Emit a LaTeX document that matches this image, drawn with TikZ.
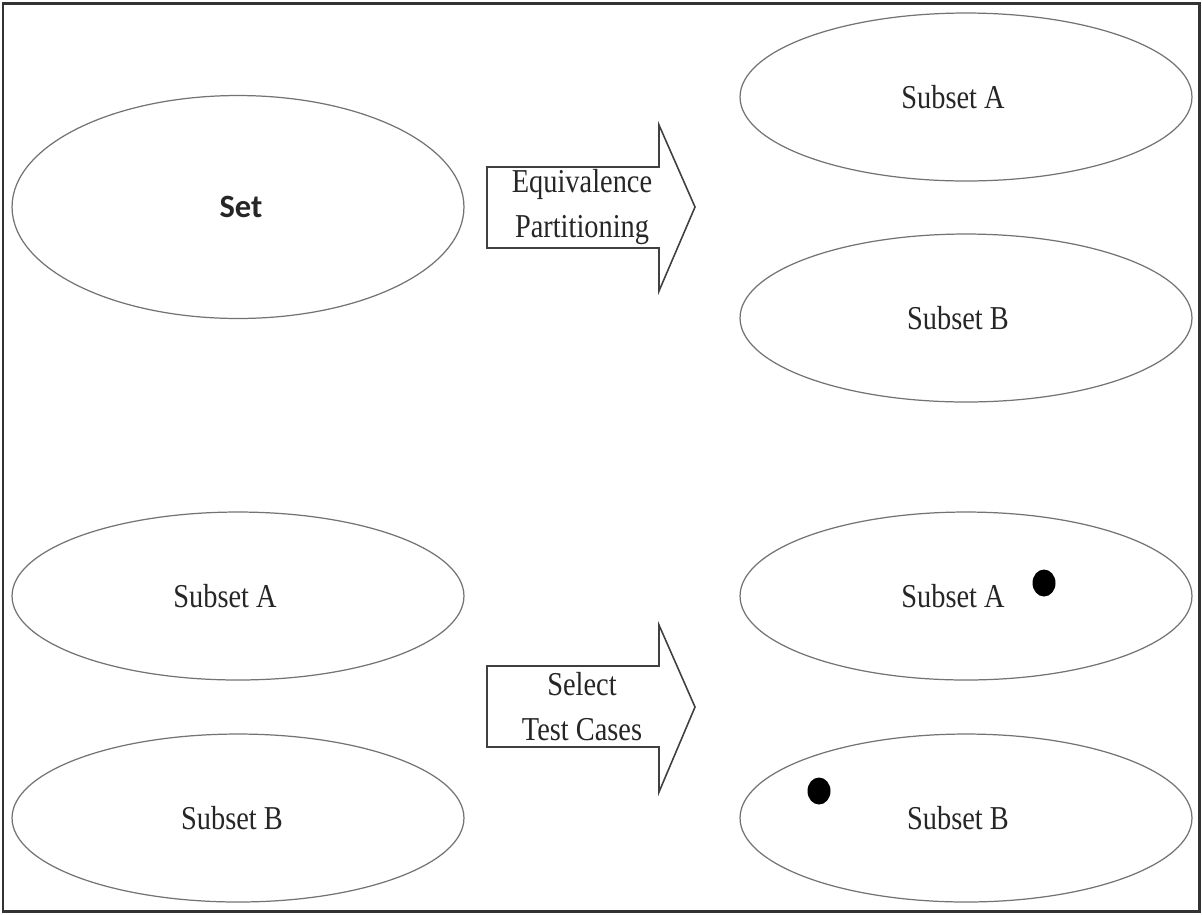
\documentclass[tikz,border=0pt]{standalone}
\usepackage{fontspec}
\setmainfont{Liberation Serif}
\newfontfamily\lblfont[FakeStretch=0.85]{Liberation Serif}
\newfontfamily\setfont{Carlito}
\usetikzlibrary{shapes.geometric}
\tikzset{
  setell/.style={ellipse, draw=black!55, line width=0.7pt, inner sep=0pt,
     minimum width=9.04cm, minimum height=4.46cm},
  subell/.style={ellipse, draw=black!55, line width=0.7pt, inner sep=0pt,
     minimum width=9.04cm, minimum height=3.36cm},
  lbl/.style={font=\lblfont\fontsize{19}{25.6}\selectfont, text=black!85, align=center},
  bigarrow/.style={draw=black!75, line width=0.9pt, line join=miter, fill=white},
  testdot/.style={ellipse, fill=black, inner sep=0pt, minimum width=0.46cm, minimum height=0.54cm}
}
\begin{document}
\begin{tikzpicture}[x=0.02cm,y=-0.02cm]
\useasboundingbox (0,0) rectangle (1202,914);
\draw[line width=1.7pt, draw=black!80] (3,3) rectangle (1199,911);

% top half
\node[setell] (set) at (238,207) {};
\node[font=\setfont\bfseries\fontsize{18.5}{22}\selectfont, text=black!85] (settxt) at ([xshift=0.06cm]set.center) {Set};
\node[subell] (ta) at (966,97) {};
\node[lbl] (tatxt) at ([xshift=-0.26cm]ta.center) {Subset A};
\node[subell] (tb) at (966,318) {};
\node[lbl] (tbtxt) at ([xshift=-0.16cm]tb.center) {Subset B};

\coordinate (a1) at (487,167);
\draw[bigarrow] (a1) -- (659,167) -- (659,125) -- (695,207) -- (659,291) -- (659,248) -- (487,248) -- cycle;
\node[lbl] (a1txt) at (582,207) {Equivalence\\Partitioning};

% bottom half
\node[subell] (ba) at (238,596) {};
\node[lbl] (batxt) at ([xshift=-0.26cm]ba.center) {Subset A};
\node[subell] (bb) at (238,818) {};
\node[lbl] (bbtxt) at ([xshift=-0.12cm]bb.center) {Subset B};

\node[subell] (ra) at (966,596) {};
\node[lbl] (ratxt) at ([xshift=-0.26cm]ra.center) {Subset A};
\node[subell] (rb) at (966,818) {};
\node[lbl] (rbtxt) at ([xshift=-0.16cm]rb.center) {Subset B};

\node[testdot] (d1) at (1044,583) {};
\node[testdot] (d2) at (819,791) {};

\coordinate (a2) at (487,666);
\draw[bigarrow] (a2) -- (659,666) -- (659,625) -- (695,707) -- (659,792) -- (659,747) -- (487,747) -- cycle;
\node[lbl] (a2txt) at (582,707) {Select\\Test Cases};
\end{tikzpicture}
\end{document}
